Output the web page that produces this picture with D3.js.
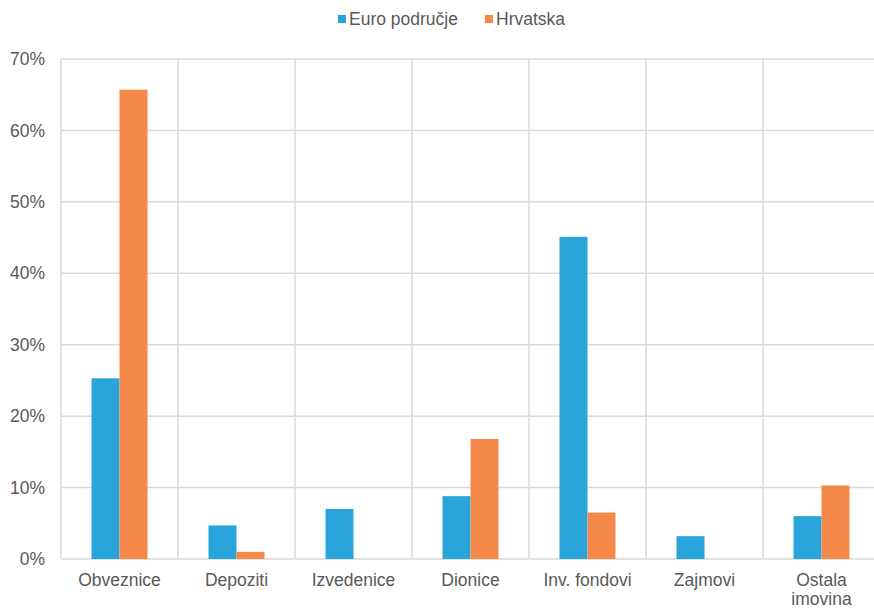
<!DOCTYPE html>
<html>
<head>
<meta charset="utf-8">
<script src="https://cdn.jsdelivr.net/npm/d3@7"></script>
<style>
  body { margin: 0; background: #fff; }
  svg { display: block; font-family: "Liberation Sans", Arial, sans-serif; }
</style>
</head>
<body>
<div id="chart"></div>
<script>
const categories = ["Obveznice", "Depoziti", "Izvedenice", "Dionice", "Inv. fondovi", "Zajmovi", "Ostala imovina"];
const seriesNames = ["Euro područje", "Hrvatska"];
const euroValues = [25.3, 4.7, 7.0, 8.8, 45.1, 3.2, 6.0];
const hrValues = [65.7, 1.0, 0, 16.8, 6.5, 0, 10.3];
const yTicks = [0, 10, 20, 30, 40, 50, 60, 70];
const colors = ["#29a5dc", "#f5894a"];

const W = 874, H = 609;
const MARGIN = { LEFT: 61, RIGHT: -6, TOP: 59, BOTTOM: 50 };
const width = W - MARGIN.LEFT - MARGIN.RIGHT;
const height = H - MARGIN.TOP - MARGIN.BOTTOM;

const svg = d3.select("#chart").append("svg")
    .attr("width", W)
    .attr("height", H);

const g = svg.append("g")
    .attr("transform", `translate(${MARGIN.LEFT}, ${MARGIN.TOP})`);

const x = d3.scaleBand()
    .domain(categories)
    .range([0, width]);

const x1 = d3.scaleBand()
    .domain(seriesNames)
    .range([0, x.bandwidth()])
    .paddingInner(0)
    .paddingOuter(1.09);

const y = d3.scaleLinear()
    .domain([0, 70])
    .range([height, 0]);

// horizontal grid
g.append("g")
    .selectAll("line")
    .data(yTicks)
    .enter().append("line")
    .attr("x1", 0)
    .attr("x2", width)
    .attr("y1", d => y(d))
    .attr("y2", d => y(d))
    .attr("stroke", "#d9d9d9")
    .attr("stroke-width", 1.5);

// vertical separators
g.append("g")
    .selectAll("line")
    .data(categories)
    .enter().append("line")
    .attr("x1", d => x(d))
    .attr("x2", d => x(d))
    .attr("y1", 0)
    .attr("y2", height)
    .attr("stroke", "#d9d9d9")
    .attr("stroke-width", 1.5);

// y axis labels
const yAxis = g.append("g")
    .call(d3.axisLeft(y).tickValues(yTicks).tickFormat(d => d + "%").tickSize(0).tickPadding(16));
yAxis.select(".domain").remove();
yAxis.selectAll("text")
    .attr("fill", "#595959")
    .style("font-size", "17.5px");

// bars
const data = categories.map((c, i) => ({ cat: c, vals: [euroValues[i], hrValues[i]] }));
const groups = g.selectAll(".cat")
    .data(data)
    .enter().append("g")
    .attr("class", "cat")
    .attr("transform", d => `translate(${x(d.cat)}, 0)`);

groups.selectAll("rect")
    .data(d => d.vals.map((v, j) => ({ name: seriesNames[j], v: v })))
    .enter().append("rect")
    .attr("x", d => x1(d.name))
    .attr("width", x1.bandwidth())
    .attr("y", d => y(d.v))
    .attr("height", d => height - y(d.v))
    .attr("fill", (d, j) => colors[j]);

// x labels
const xLabels = g.append("g")
    .selectAll("text")
    .data(categories)
    .enter().append("text")
    .attr("x", d => x(d) + x.bandwidth() / 2)
    .attr("y", height + 27)
    .attr("text-anchor", "middle")
    .attr("fill", "#595959")
    .style("font-size", "17.5px");

xLabels.each(function(d) {
    const words = d === "Ostala imovina" ? ["Ostala", "imovina"] : [d];
    const t = d3.select(this);
    words.forEach((w, i) => {
        t.append("tspan")
            .attr("x", x(d) + x.bandwidth() / 2)
            .attr("dy", i === 0 ? 0 : 18.5)
            .text(w);
    });
});

// legend
const legend = svg.append("g")
    .attr("transform", "translate(338, 19)");
const legendX = [0, 147];
seriesNames.forEach((n, i) => {
    const item = legend.append("g").attr("transform", `translate(${legendX[i]}, 0)`);
    item.append("rect")
        .attr("x", 0)
        .attr("y", -4)
        .attr("width", 8)
        .attr("height", 8)
        .attr("fill", colors[i]);
    item.append("text")
        .attr("x", 11)
        .attr("y", 6)
        .attr("fill", "#595959")
        .style("font-size", "17.5px")
        .text(n);
});
</script>
</body>
</html>
